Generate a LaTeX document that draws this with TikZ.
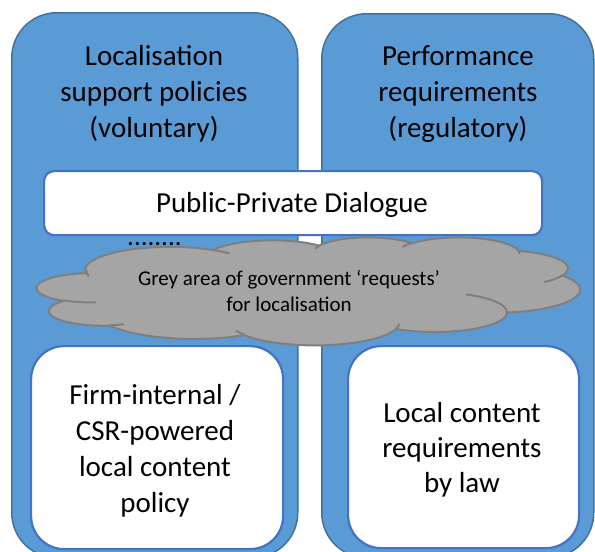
\documentclass[tikz,border=0pt]{standalone}
\usepackage{fontspec}
\setmainfont{Carlito}
\definecolor{panelfill}{HTML}{5B9BD5}
\definecolor{paneledge}{HTML}{41719C}
\definecolor{boxedge}{HTML}{4472C4}
\definecolor{cloudfill}{HTML}{A5A5A5}
\definecolor{cloudedge}{HTML}{7F7F7F}
% arc of an ellipse given by a geometric start angle and sweep (y down)
\newcommand\prepArc[5]{%
  \pgfmathsetmacro\cldS{atan2((#2)*sin(#4),(#3)*cos(#4))}%
  \pgfmathsetmacro\cldE{atan2((#2)*sin((#4)+(#5)),(#3)*cos((#4)+(#5)))}%
  \pgfmathsetmacro\cldD{mod(\cldE-\cldS+720,360)}%
  \expandafter\xdef\csname cld#1\endcsname{arc[x radius=#2,y radius=#3,start angle=\cldS,delta angle=\cldD]}%
}
% outline
\prepArc{ma}{67.53}{91.90}{-190.4875}{123.7805}
\prepArc{mb}{53.33}{72.67}{-144.1024}{89.9452}
\prepArc{mc}{43.65}{59.45}{-145.8079}{99.7230}
\prepArc{md}{48.57}{65.95}{-130.9861}{117.2417}
\prepArc{me}{53.33}{72.73}{-78.7089}{109.0269}
\prepArc{mf}{67.75}{92.20}{-46.2673}{130.2690}
\prepArc{mg}{57.85}{78.67}{0.6250}{114.0333}
\prepArc{mh}{67.52}{92.15}{22.4516}{115.1726}
\prepArc{mi}{77.20}{105.43}{66.2426}{75.7110}
\prepArc{mj}{43.60}{59.18}{-274.9421}{146.7356}
\prepArc{mk}{43.45}{59.45}{-246.8285}{152.5189}
% creases
\prepArc{pa}{43.45}{59.45}{86.7420}{26.4295}
\prepArc{pb}{43.60}{59.18}{73.6105}{11.4475}
\prepArc{pc}{67.52}{92.15}{137.6242}{14.0811}
\prepArc{pd}{67.52}{92.15}{6.4533}{15.9984}
\prepArc{pe}{57.85}{78.67}{-70.2924}{70.9174}
\prepArc{pf}{53.33}{72.73}{30.3180}{27.7515}
\prepArc{pg}{48.57}{65.95}{-13.7443}{14.8658}
\prepArc{ph}{48.57}{65.95}{-149.1815}{18.1876}
\prepArc{pi}{43.65}{59.45}{-163.4943}{17.6877}
\prepArc{pj}{67.53}{91.90}{-66.7070}{12.3194}
\prepArc{pk}{67.53}{91.90}{162.0485}{20.6957}
\begin{document}
\begin{tikzpicture}[x=1pt,y=-1pt,
  panel/.style={rectangle, draw=paneledge, line width=1.5pt, fill=panelfill,
    rounded corners=45pt, inner sep=0pt, anchor=north west},
  whitebox/.style={rectangle, draw=boxedge, line width=2.2pt, fill=white,
    inner sep=0pt, anchor=north west},
  bigtext/.style={font=\fontsize{29}{36}\selectfont, align=center, inner sep=0pt, text=black},
  cloudtext/.style={font=\fontsize{21}{26}\selectfont, align=center, inner sep=0pt, text=black},
  cloudline/.style={draw=cloudedge, line width=2pt, line join=round}]
\useasboundingbox (0,0) rectangle (595,552);
\clip (0,0) rectangle (595,552);
% panels
\node[panel, minimum width=286pt, minimum height=545pt] (lpanel) at (11,12) {};
\node[panel, minimum width=272pt, minimum height=544pt] (rpanel) at (321,13) {};
\node[bigtext] (ltitle) at (154,94) {Localisation\\support policies\\(voluntary)};
\node[bigtext] (rtitle) at (458,94) {Performance\\requirements\\(regulatory)};
% dialogue box
\node[whitebox, rounded corners=10pt, minimum width=498pt, minimum height=64pt] (ppd) at (43,170) {};
\node[bigtext, anchor=base] (ppdtext) at (292,212) {Public-Private Dialogue};
\node[bigtext, font=\fontsize{27}{34}\selectfont, anchor=base west] (dots) at (127,245) {........};
% bottom boxes
\node[whitebox, rounded corners=33pt, minimum width=252pt, minimum height=203pt] (lbox) at (30,345) {};
\node[whitebox, rounded corners=33pt, minimum width=231pt, minimum height=202pt] (rbox) at (347,345) {};
\node[bigtext] (lboxtext) at (155,451) {Firm-internal /\\CSR-powered\\local content\\policy};
\node[bigtext, font=\fontsize{29}{35}\selectfont] (rboxtext) at (462,450) {Local content\\requirements\\by law};
% cloud
\begin{scope}[shift={(37,237)}, x=1.25694pt, y=-0.25pt]
  \fill[cloudfill] (39.00,143.70) \cldma \cldmb \cldmc \cldmd \cldme \cldmf \cldmg \cldmh \cldmi \cldmj \cldmk -- cycle;
  \draw[cloudline] (39.00,143.70) \cldma \cldmb \cldmc \cldmd \cldme \cldmf \cldmg \cldmh \cldmi \cldmj \cldmk -- cycle;
  \draw[cloudline] (46.93,261.77) \cldpa;
  \draw[cloudline] (69.28,348.99) \cldpb;
  \draw[cloudline] (164.78,390.90) \cldpc;
  \draw[cloudline] (288.27,347.51) \cldpd;
  \draw[cloudline] (341.29,229.54) \cldpe;
  \draw[cloudline] (417.98,153.54) \cldpf;
  \draw[cloudline] (383.24,54.26) \cldpg;
  \draw[cloudline] (290.78,39.52) \cldph;
  \draw[cloudline] (221.41,47.20) \cldpi;
  \draw[cloudline] (140.00,51.92) \cldpj;
  \draw[cloudline] (41.27,157.89) \cldpk;
\end{scope}
\node[cloudtext] (cloudlabel) at (289,291) {Grey area of government ‘requests’\\for localisation};
\end{tikzpicture}
\end{document}
